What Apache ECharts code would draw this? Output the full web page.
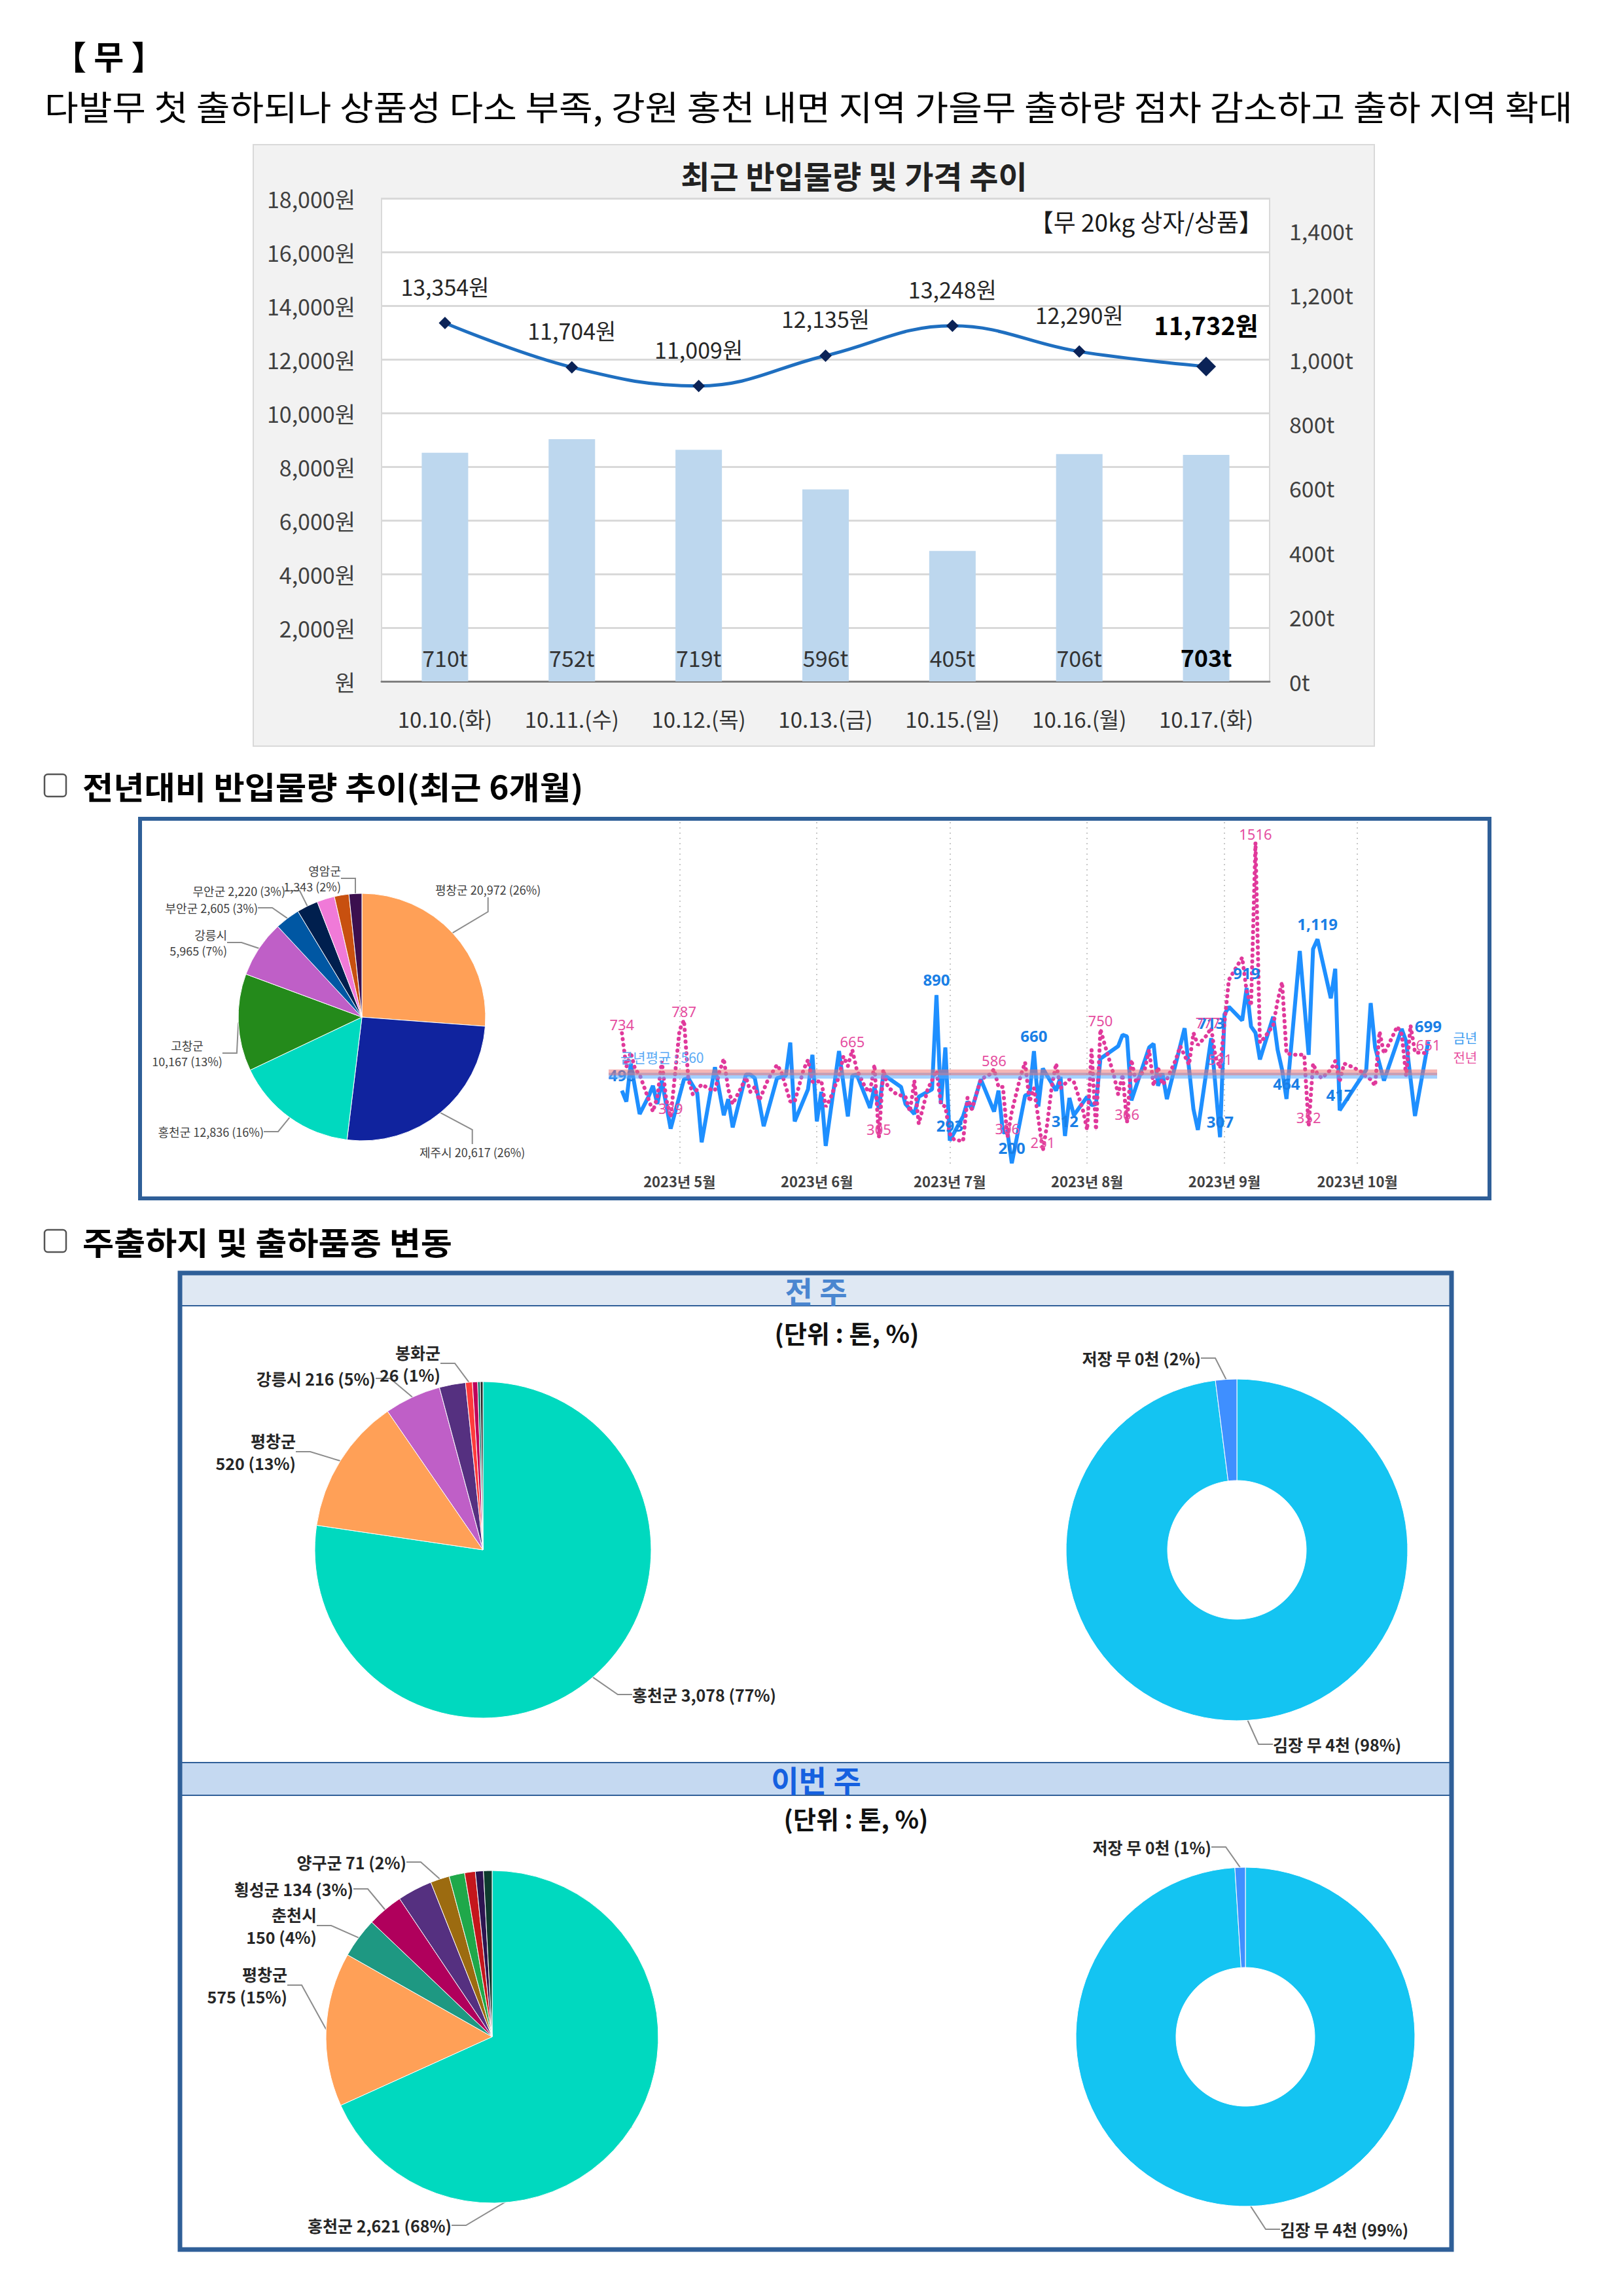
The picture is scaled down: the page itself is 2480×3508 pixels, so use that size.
<!DOCTYPE html>
<html><head><meta charset="utf-8">
<script src="https://cdn.jsdelivr.net/npm/echarts@6/dist/echarts.min.js"></script>
<style>html,body{margin:0;padding:0;background:#fff}#c{width:2480px;height:3508px}</style>
</head><body><div id="c"></div>
<script>
const FONT = "'Noto Sans CJK KR','Noto Sans',sans-serif";

// ===== 최근 반입물량 및 가격 추이 =====
const days = ['10.10.(화)','10.11.(수)','10.12.(목)','10.13.(금)','10.15.(일)','10.16.(월)','10.17.(화)'];
const volumeT = [710, 752, 719, 596, 405, 706, 703];
const priceWon = [13354, 11704, 11009, 12135, 13248, 12290, 11732];

// ===== 전년대비 반입물량 (최근 6개월) : 산지별 =====
const areas6m = ['평창군','제주시','홍천군','고창군','강릉시','부안군','무안군','기타1','기타2','영암군'];
const areas6mValues = [20972, 20617, 12836, 10167, 5965, 2605, 2220, 1850, 1520, 1343];

// ===== 일별 반입량 (금년 / 전년) [월-일, 톤] =====
const thisYear = [['04-18',498],['04-19',453],['04-20',609],['04-22',402],['04-24',473],['04-25',518],['04-26',443],['04-27',539],['04-29',342],
['05-02',544],['05-03',549],['05-05',488],['05-06',286],['05-09',594],['05-11',397],['05-12',463],['05-13',347],['05-16',564],['05-17',564],['05-18',549],['05-20',352],['05-23',549],['05-25',559],['05-26',695],['05-27',372],['05-30',503],['05-31',645],
['06-01',372],['06-02',493],['06-03',271],['06-06',660],['06-08',392],['06-09',559],['06-10',564],['06-13',427],['06-14',513],['06-15',422],['06-16',564],['06-20',513],['06-21',443],['06-23',402],['06-24',473],['06-27',503],['06-28',890],['06-29',443],['06-30',675],
['07-01',293],['07-04',392],['07-05',453],['07-06',422],['07-08',544],['07-11',412],['07-12',498],['07-13',326],['07-14',331],['07-15',200],['07-18',478],['07-19',483],['07-20',660],['07-21',433],['07-22',589],['07-25',498],['07-26',554],['07-27',312],['07-28',468],['07-29',397],
['08-01',473],['08-02',438],['08-03',443],['08-04',629],['08-08',680],['08-09',727],['08-10',720],['08-11',458],['08-15',675],['08-16',690],['08-17',518],['08-18',569],['08-19',463],['08-23',754],['08-25',422],['08-26',337],['08-29',713],['08-31',307],
['09-01',811],['09-02',842],['09-05',786],['09-06',919],['09-07',761],['09-08',735],['09-09',626],['09-12',801],['09-13',665],['09-14',584],['09-15',464],['09-18',1071],['09-20',645],['09-21',1079],['09-22',1119],['09-25',877],['09-26',998],['09-27',417],
['10-03',584],['10-04',857],['10-05',675],['10-07',539],['10-11',751],['10-12',700],['10-14',394],['10-17',699]];
const lastYear = [['04-18',734],['04-19',594],['04-20',655],['04-21',584],['04-22',564],['04-24',463],['04-25',412],['04-26',473],['04-27',619],['04-28',463],['04-29',389],
['05-01',746],['05-02',787],['05-03',544],['05-04',483],['05-06',523],['05-08',503],['05-09',498],['05-10',574],['05-11',629],['05-12',503],['05-13',443],['05-15',513],['05-16',554],['05-17',493],['05-18',513],['05-19',458],['05-21',544],['05-23',604],['05-24',574],['05-26',453],['05-27',453],['05-29',584],['05-30',624],['05-31',534],
['06-01',534],['06-02',539],['06-03',432],['06-04',463],['06-05',513],['06-06',554],['06-07',639],['06-08',599],['06-09',665],['06-10',584],['06-12',508],['06-13',493],['06-14',604],['06-15',305],['06-16',584],['06-17',513],['06-19',483],['06-21',473],['06-22',412],['06-23',539],['06-24',362],['06-25',432],['06-26',503],['06-28',579],['06-29',443],['06-30',432],
['07-01',321],['07-02',296],['07-04',291],['07-05',468],['07-06',422],['07-08',544],['07-10',564],['07-11',586],['07-12',513],['07-13',513],['07-14',306],['07-15',412],['07-17',559],['07-18',614],['07-19',453],['07-20',508],['07-21',382],['07-22',251],['07-23',362],['07-24',513],['07-25',609],['07-26',508],['07-28',544],['07-29',534],['07-31',422],
['08-01',337],['08-02',665],['08-03',337],['08-04',750],['08-05',685],['08-07',564],['08-08',483],['08-09',564],['08-10',366],['08-11',624],['08-12',534],['08-14',584],['08-15',665],['08-16',518],['08-17',594],['08-18',523],['08-19',544],['08-21',624],['08-22',680],['08-24',604],['08-25',735],['08-26',685],['08-28',725],['08-29',756],['08-30',634],['08-31',591],
['09-01',777],['09-02',953],['09-05',1044],['09-06',907],['09-07',847],['09-08',1516],['09-09',695],['09-10',715],['09-12',766],['09-13',867],['09-14',943],['09-15',650],['09-17',645],['09-19',645],['09-20',352],['09-21',609],['09-22',564],['09-23',549],['09-25',584],['09-26',619],['09-27',534],['09-28',609],['09-30',594],
['10-02',574],['10-03',554],['10-04',544],['10-05',518],['10-06',740],['10-07',650],['10-08',685],['10-10',761],['10-11',730],['10-12',559],['10-13',766],['10-14',655],['10-17',651]];
const thisYearLabeled = ['04-18','06-28','07-01','07-15','07-20','07-27','08-29','08-31','09-06','09-15','09-22','09-27','10-17'];
const lastYearLabeled = ['04-18','04-29','05-02','06-09','06-15','07-11','07-14','07-22','08-04','08-10','08-31','09-01','09-08','09-20','10-17'];
const lastYearLabelLeft = ['09-01'];
const avgThisYear = 560;
const avgLastYear = 574;
const lineYear = '2023';
const lineStart = '2023-04-15', lineEnd = '2023-10-19';

// ===== 주출하지 및 출하품종 변동 =====
const prevWeekAreas = ['홍천군','평창군','강릉시','기타3','봉화군','기타4','기타5','기타6'];
const prevWeekValues = [3078, 520, 216, 100, 26, 20, 10, 10];
const prevWeekKinds = ['김장 무','저장 무'];
const prevWeekKindValues = [3900, 80];
const thisWeekAreas = ['홍천군','평창군','춘천시','횡성군','기타7','양구군','기타8','기타9','기타10','기타11'];
const thisWeekValues = [2621, 575, 150, 134, 130, 71, 58, 40, 30, 32];
const thisWeekKinds = ['김장 무','저장 무'];
const thisWeekKindValues = [3803, 38];

// ---------- styles / layout (kept apart from data) ----------
const colors6m = ['#ffa057','#10239e','#00d9bf','#248a1b','#bf5fc7','#0057a3','#001f4e','#f07ad8','#c8500f','#3b0f4e'];
const colorsPrev = ['#00d9bf','#ffa057','#bf5fc7','#553080','#ff3b3b','#c0005a','#137a6e','#222222'];
const colorsThis = ['#00d9bf','#ffa057','#1e9882','#b0005c','#553080','#9c6b10','#1fa84a','#c4161c','#2d1450','#0d3b2e'];
const kindColors = ['#14c4f2','#3f8fff'];

const pos6m = {'평창군':[665,1359,'left'],'제주시':[641,1760,'left'],'홍천군':[403,1729,'right'],'고창군':[286,1609,'center'],
  '강릉시':[347,1440,'right'],'부안군':[394,1387,'right'],'무안군':[436,1361,'right'],'영암군':[521,1342,'right']};
const posPrev = {'홍천군':[966,2589,'left'],'평창군':[452,2218,'right'],'강릉시':[574,2106,'right'],'봉화군':[673,2083,'right']};
const posPrevKind = {'저장 무':[1835,2075,'right'],'김장 무':[1945,2665,'left']};
const posThis = {'양구군':[621,2845,'right'],'횡성군':[540,2886,'right'],'춘천시':[484,2942,'right'],'평창군':[439,3033,'right'],'홍천군':[690,3400,'right']};
const posThisKind = {'저장 무':[1851,2822,'right'],'김장 무':[1956,3406,'left']};

// ---------- helpers ----------
const lineDates = [];
for (let t = Date.parse(lineStart + 'T00:00:00Z'); t <= Date.parse(lineEnd + 'T00:00:00Z'); t += 86400000) {
  lineDates.push(new Date(t).toISOString().slice(0, 10));
}
function toSeriesData(pairs) {
  const m = {};
  pairs.forEach(p => { m[lineYear + '-' + p[0]] = p[1]; });
  return lineDates.map(d => (m[d] !== undefined ? m[d] : null));
}
const isMonthStart = (i, v) => v.slice(8) === '01';
const monthLabel = v => v.slice(0, 4) + '년 ' + Number(v.slice(5, 7)) + '월';
const tySet = new Set(thisYearLabeled.map(d => lineYear + '-' + d));
const lySet = new Set(lastYearLabeled.map(d => lineYear + '-' + d));
const lyLeftSet = new Set(lastYearLabelLeft.map(d => lineYear + '-' + d));

function areaFormatter(total, twoLine) {
  return p => p.name + (twoLine.indexOf(p.name) >= 0 ? '\n' : ' ') + p.value.toLocaleString('en-US') +
    ' (' + Math.round(p.value / total * 100) + '%)';
}
function kindFormatter(total) {
  return p => p.name + ' ' + Math.round(p.value / 1000) + '천 (' + Math.round(p.value / total * 100) + '%)';
}
function pieSeries(cfg) {
  const total = cfg.values.reduce((a, b) => a + b, 0);
  return {
    type: 'pie', center: cfg.center, radius: cfg.radius, startAngle: 90, clockwise: true,
    avoidLabelOverlap: false, silent: true,
    data: cfg.names.map((n, i) => ({
      name: n, value: cfg.values[i], itemStyle: { color: cfg.colors[i] },
      label: { show: !!cfg.pos[n] }, labelLine: { show: !!cfg.pos[n] }
    })),
    itemStyle: { borderColor: '#ffffff', borderWidth: 1 },
    label: {
      position: 'outside', formatter: cfg.kind ? kindFormatter(total) : areaFormatter(total, cfg.twoLine || []),
      fontSize: cfg.fontSize, fontWeight: cfg.fontWeight, color: cfg.labelColor, lineHeight: cfg.lineHeight, fontFamily: FONT
    },
    labelLine: { show: true, length: 10, length2: 22, lineStyle: { color: '#8c8c8c', width: 2 } },
    labelLayout: p => {
      const pos = cfg.pos[cfg.names[p.dataIndex]];
      return pos ? { x: pos[0], y: pos[1], align: pos[2], verticalAlign: 'middle' } : {};
    },
    emphasis: { disabled: true }
  };
}
function txt(x, y, text, o) {
  o = o || {};
  return { type: 'text', x: x, y: y, z: o.z || 5, scaleX: o.scaleX || 1, style: {
    text: text, fontSize: o.size || 40, fontWeight: o.weight || 'normal', fontFamily: FONT,
    fill: o.color || '#000', align: o.align || 'left', textAlign: o.align || 'left',
    verticalAlign: 'middle', textVerticalAlign: 'middle' } };
}

const graphics = [
  { type: 'rect', z: -10, shape: { x: 387, y: 221, width: 1713, height: 919 }, style: { fill: '#f2f2f2', stroke: '#d9d9d9', lineWidth: 2 } },
  txt(82, 84, '【 무 】', { size: 50, weight: 'bold' }),
  txt(68, 161, '다발무 첫 출하되나 상품성 다소 부족, 강원 홍천 내면 지역 가을무 출하량 점차 감소하고 출하 지역 확대', { size: 52, scaleX: 1.08 }),
  txt(1305, 267, '최근 반입물량 및 가격 추이', { size: 48, weight: 'bold', align: 'center', color: '#222' }),
  txt(1930, 338, '【무 20kg 상자/상품】', { size: 37, align: 'right', color: '#1a1a1a' }),
  { type: 'rect', shape: { x: 68, y: 1183, width: 33, height: 34, r: 5 }, style: { fill: 'none', stroke: '#555', lineWidth: 2.5 } },
  txt(126, 1200, '전년대비 반입물량 추이(최근 6개월)', { size: 48, weight: 'bold', scaleX: 1.07 }),
  { type: 'rect', z: -10, shape: { x: 214, y: 1251, width: 2062, height: 580 }, style: { fill: '#fff', stroke: '#2f5f98', lineWidth: 6 } },
  { type: 'rect', shape: { x: 68, y: 1879, width: 33, height: 34, r: 5 }, style: { fill: 'none', stroke: '#555', lineWidth: 2.5 } },
  txt(126, 1896, '주출하지 및 출하품종 변동', { size: 48, weight: 'bold', scaleX: 1.09 }),
  { type: 'rect', z: -10, shape: { x: 275, y: 1945, width: 1943, height: 1492 }, style: { fill: '#fff' } },
  { type: 'rect', z: -9, shape: { x: 275, y: 1945, width: 1943, height: 50 }, style: { fill: '#dfe8f3' } },
  { type: 'line', z: -8, shape: { x1: 275, y1: 1995, x2: 2218, y2: 1995 }, style: { stroke: '#2f5f98', lineWidth: 2 } },
  txt(1247, 1971, '전 주', { size: 46, weight: 'bold', align: 'center', color: '#4a86d0' }),
  txt(1294, 2035, '(단위 : 톤, %)', { size: 38, weight: 'bold', align: 'center', color: '#111' }),
  { type: 'rect', z: -9, shape: { x: 275, y: 2693, width: 1943, height: 50 }, style: { fill: '#c5d9f1' } },
  { type: 'line', z: -8, shape: { x1: 275, y1: 2693, x2: 2218, y2: 2693 }, style: { stroke: '#2f5f98', lineWidth: 2 } },
  { type: 'line', z: -8, shape: { x1: 275, y1: 2743, x2: 2218, y2: 2743 }, style: { stroke: '#2f5f98', lineWidth: 2 } },
  txt(1247, 2718, '이번 주', { size: 46, weight: 'bold', align: 'center', color: '#1560e0' }),
  txt(1308, 2777, '(단위 : 톤, %)', { size: 38, weight: 'bold', align: 'center', color: '#111' }),
  { type: 'rect', z: 50, shape: { x: 275, y: 1945, width: 1943, height: 1492 }, style: { fill: 'none', stroke: '#2f5f98', lineWidth: 7 } }
];

const lastIdx = priceWon.length - 1;
const option = {
  animation: false,
  backgroundColor: '#ffffff',
  textStyle: { fontFamily: FONT },
  graphic: { elements: graphics },
  grid: [
    { left: 583, top: 303, width: 1357, height: 738, show: true, backgroundColor: '#ffffff', borderColor: '#d9d9d9', borderWidth: 2, containLabel: false, outerBoundsMode: 'none' },
    { left: 930, top: 1256, width: 1266, height: 525, containLabel: false, outerBoundsMode: 'none' }
  ],
  xAxis: [
    { gridIndex: 0, type: 'category', data: days, axisTick: { show: false },
      axisLine: { lineStyle: { color: '#808080', width: 3 } },
      axisLabel: { fontSize: 33, color: '#333', margin: 40, fontFamily: FONT } },
    { gridIndex: 1, type: 'category', data: lineDates, boundaryGap: false,
      axisLine: { show: false }, axisTick: { show: false },
      axisLabel: { interval: isMonthStart, formatter: monthLabel, fontSize: 22, fontWeight: 'bold', color: '#404040', margin: 12, fontFamily: FONT },
      splitLine: { show: true, interval: isMonthStart, lineStyle: { color: '#c8c8c8', type: [2, 6], width: 2 } } }
  ],
  yAxis: [
    { gridIndex: 0, type: 'value', min: 0, max: 18000, interval: 2000,
      axisLabel: { formatter: v => (v === 0 ? '원' : v.toLocaleString('en-US') + '원'), fontSize: 34, color: '#404040', margin: 40, fontFamily: FONT },
      splitLine: { lineStyle: { color: '#d9d9d9', width: 3 } }, axisLine: { show: false }, axisTick: { show: false } },
    { gridIndex: 0, type: 'value', position: 'right', min: 0, max: 1500, interval: 200,
      axisLabel: { formatter: v => v.toLocaleString('en-US') + 't', fontSize: 34, color: '#404040', margin: 30, showMaxLabel: false, fontFamily: FONT },
      splitLine: { show: false }, axisLine: { show: false }, axisTick: { show: false } },
    { gridIndex: 1, type: 'value', min: 190, max: 1600, show: false, splitLine: { show: false } }
  ],
  series: [
    { type: 'bar', xAxisIndex: 0, yAxisIndex: 1, barWidth: 71, silent: true,
      data: volumeT.map((v, i) => (i === volumeT.length - 1 ? { value: v, label: { fontWeight: 'bold', fontSize: 36, color: '#000' } } : v)),
      itemStyle: { color: '#bdd7ee' },
      label: { show: true, position: 'insideBottom', distance: 20, formatter: p => p.value + 't', fontSize: 34, color: '#333', fontFamily: FONT } },
    { type: 'line', xAxisIndex: 0, yAxisIndex: 0, smooth: 0.4, silent: true,
      data: priceWon.map((v, i) => (i === lastIdx ? { value: v, symbolSize: 30, label: { fontWeight: 'bold', fontSize: 38, color: '#000' } } : v)),
      symbol: 'diamond', symbolSize: 19, itemStyle: { color: '#0b2357' },
      lineStyle: { color: '#1f6fc0', width: 5 },
      label: { show: true, position: 'top', distance: 30, formatter: p => Number(p.value).toLocaleString('en-US') + '원', fontSize: 34, color: '#262626', fontFamily: FONT } },
    { type: 'line', name: '금년', xAxisIndex: 1, yAxisIndex: 2, data: toSeriesData(thisYear), connectNulls: true, silent: true,
      symbol: 'circle', symbolSize: 1, showAllSymbol: true, itemStyle: { color: '#1e8fff' },
      lineStyle: { color: '#1e8fff', width: 6 },
      label: { show: true, position: 'top', distance: 11, fontSize: 24, fontWeight: 'bold', color: '#1a7fe6', fontFamily: "'Noto Sans',sans-serif",
        formatter: p => (tySet.has(p.name) && p.value != null ? Number(p.value).toLocaleString('en-US') : '') },
      endLabel: { show: true, formatter: '금년', color: '#3d9cf0', fontSize: 20, distance: 38, offset: [0, -6], fontFamily: FONT },
      markLine: { silent: true, symbol: 'none', animation: false,
        data: [
          { yAxis: avgThisYear, lineStyle: { color: 'rgba(90,170,255,0.55)', width: 9, type: 'solid' },
            label: { show: true, position: 'insideStartTop', formatter: '금년평균 : ' + avgThisYear, color: '#5aaaf5', fontSize: 21, distance: 18 } },
          { yAxis: avgLastYear, lineStyle: { color: 'rgba(235,110,110,0.5)', width: 9, type: 'solid' }, label: { show: false } }
        ] } },
    { type: 'line', name: '전년', xAxisIndex: 1, yAxisIndex: 2, connectNulls: true, silent: true,
      data: toSeriesData(lastYear).map((v, i) => (lyLeftSet.has(lineDates[i]) ? { value: v, label: { position: 'left', distance: 6 } } : v)),
      symbol: 'circle', symbolSize: 1, showAllSymbol: true, itemStyle: { color: '#e0399b' },
      lineStyle: { color: '#e0399b', width: 6, type: [0.5, 8.5], cap: 'round' },
      label: { show: true, position: 'top', distance: 2, fontSize: 22, color: '#e54da0', fontFamily: "'Noto Sans',sans-serif",
        formatter: p => (lySet.has(p.name) && p.value != null ? String(p.value) : '') },
      endLabel: { show: true, formatter: '전년', color: '#e8509f', fontSize: 20, distance: 38, offset: [0, 6], fontFamily: FONT } },
    pieSeries({ names: areas6m, values: areas6mValues, colors: colors6m, center: [553, 1554], radius: [0, 189],
      pos: pos6m, twoLine: ['고창군', '강릉시', '영암군'], fontSize: 18, fontWeight: 'normal', labelColor: '#404040', lineHeight: 24 }),
    pieSeries({ names: prevWeekAreas, values: prevWeekValues, colors: colorsPrev, center: [738, 2368], radius: [0, 257],
      pos: posPrev, twoLine: ['평창군', '봉화군'], fontSize: 25, fontWeight: 'bold', labelColor: '#262626', lineHeight: 34 }),
    pieSeries({ names: prevWeekKinds, values: prevWeekKindValues, colors: kindColors, center: [1890, 2368], radius: [106, 261],
      pos: posPrevKind, kind: true, fontSize: 25, fontWeight: 'bold', labelColor: '#262626', lineHeight: 34 }),
    pieSeries({ names: thisWeekAreas, values: thisWeekValues, colors: colorsThis, center: [752, 3112], radius: [0, 254],
      pos: posThis, twoLine: ['춘천시', '평창군'], fontSize: 25, fontWeight: 'bold', labelColor: '#262626', lineHeight: 34 }),
    pieSeries({ names: thisWeekKinds, values: thisWeekKindValues, colors: kindColors, center: [1903, 3112], radius: [106, 259],
      pos: posThisKind, kind: true, fontSize: 25, fontWeight: 'bold', labelColor: '#262626', lineHeight: 34 })
  ]
};

const chart = echarts.init(document.getElementById('c'), null, { renderer: 'svg', width: 2480, height: 3508 });
chart.setOption(option);
</script></body></html>
